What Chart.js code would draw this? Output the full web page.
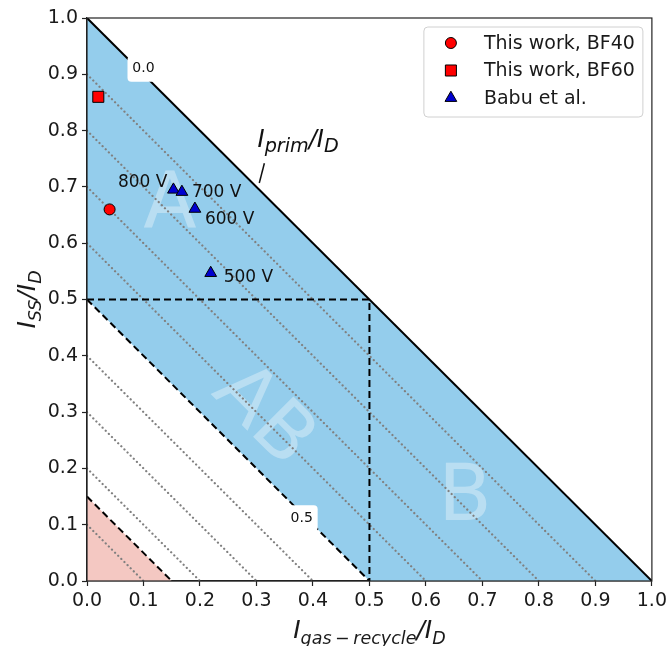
<!DOCTYPE html>
<html>
<head>
<meta charset="utf-8">
<script src="https://cdn.jsdelivr.net/npm/chart.js@4.4.0/dist/chart.umd.min.js"></script>
<style>
  html, body { margin: 0; padding: 0; background: #fff; }
  #wrap { width: 671px; height: 646px; }
</style>
</head>
<body>
<div id="wrap"><canvas id="chart"></canvas></div>
<script>
// ----- DATA -----
const tickValues = [0, 0.1, 0.2, 0.3, 0.4, 0.5, 0.6, 0.7, 0.8, 0.9, 1.0];
const tickLabels = ['0.0', '0.1', '0.2', '0.3', '0.4', '0.5', '0.6', '0.7', '0.8', '0.9', '1.0'];

const bf40X = [0.04];
const bf40Y = [0.66];
const bf60X = [0.02];
const bf60Y = [0.86];
const babuX = [0.153, 0.168, 0.191, 0.219];
const babuY = [0.695, 0.691, 0.661, 0.547];
const babuLabels = ['800 V', '700 V', '600 V', '500 V'];

// I_prim/I_D = 1 - x - y : dotted iso-lines
const dottedLevels = [0.1, 0.2, 0.3, 0.4, 0.6, 0.7, 0.8, 0.9];
const solidLevel = 1.0;
const dashedLevel = 0.5;
const pinkLevel = 0.15;

// regions
const bandX = [0, 0, 1, 0.5];
const bandY = [0.5, 1, 0, 0];
const pinkX = [0, 0, 0.15];
const pinkY = [0, 0.15, 0];
const splitX = [0, 0.5, 0.5];
const splitY = [0.5, 0.5, 0];

const regionNames = ['A', 'AB', 'B'];
const contourLabels = ['0.0', '0.5'];

// ----- text placement (data coords / pixel offsets) -----
const regionPos = [{ x: 0.147, y: 0.668, rot: 0 }, { x: 0.314, y: 0.295, rot: 45 }, { x: 0.669, y: 0.150, rot: 0 }];
const contourPos = [{ x: 0.100, y: 0.910 }, { x: 0.380, y: 0.1115 }];
const babuOffsets = [{ dx: -6, dy: -7, align: 'right' }, { dx: 10, dy: 1, align: 'left' },
                     { dx: 10, dy: 11, align: 'left' }, { dx: 13, dy: 5, align: 'left' }];

const FONT = '"DejaVu Sans", sans-serif';
const BLUE_FILL = '#94cdec';
const PINK_FILL = '#f4c8c2';

function pts(xs, ys) { return xs.map((x, i) => ({ x: x, y: ys[i] })); }
function isoLine(c) { return [{ x: 0, y: c }, { x: c, y: 0 }]; }

function lineSet(data, color, width, dash) {
    return {
        type: 'scatter', data: data, showLine: true, pointRadius: 0,
        borderColor: color, borderWidth: width, borderDash: dash,
        borderCapStyle: dash.length && dash[0] < 1 ? 'round' : 'butt', fill: false
    };
}

const datasets = [
    { label: 'This work, BF40', data: pts(bf40X, bf40Y), pointStyle: 'circle', pointRadius: 5.5,
      backgroundColor: '#ff0000', borderColor: '#000', borderWidth: 1 },
    { label: 'This work, BF60', data: pts(bf60X, bf60Y), pointStyle: 'rect', pointRadius: 7.8,
      backgroundColor: '#ff0000', borderColor: '#000', borderWidth: 1 },
    { label: 'Babu et al.', data: pts(babuX, babuY), pointStyle: 'triangle', pointRadius: 6.8,
      backgroundColor: '#0000d0', borderColor: '#000', borderWidth: 1 },
    lineSet(isoLine(solidLevel), '#000', 2, []),
    lineSet(isoLine(dashedLevel), '#000', 2, [7, 4]),
    lineSet(pts(splitX, splitY), '#000', 2, [7, 4]),
    lineSet(isoLine(pinkLevel), '#000', 2, [7, 4])
].concat(dottedLevels.map(c => lineSet(isoLine(c), '#808080', 2.2, [0.1, 4.3])));

function richParts(ctx, parts, size, ratio) {
    let w = 0;
    parts.forEach(p => {
        ctx.font = 'italic ' + (p.sub ? size * ratio : size) + 'px ' + FONT;
        p.w = ctx.measureText(p.t).width;
        w += p.w;
    });
    return w;
}
function drawRich(ctx, parts, x, y, size, align, ratio) {
    ratio = ratio || 0.7;
    const total = richParts(ctx, parts, size, ratio);
    let cx = align === 'center' ? x - total / 2 : x;
    ctx.textAlign = 'left';
    ctx.textBaseline = 'alphabetic';
    parts.forEach(p => {
        ctx.font = 'italic ' + (p.sub ? size * ratio : size) + 'px ' + FONT;
        ctx.fillText(p.t, cx, p.sub ? y + size * 0.22 : y);
        cx += p.w;
    });
}
function roundRect(ctx, x, y, w, h, r) {
    ctx.beginPath();
    ctx.moveTo(x + r, y);
    ctx.arcTo(x + w, y, x + w, y + h, r);
    ctx.arcTo(x + w, y + h, x, y + h, r);
    ctx.arcTo(x, y + h, x, y, r);
    ctx.arcTo(x, y, x + w, y, r);
    ctx.closePath();
}

const decorPlugin = {
    id: 'decor',
    beforeDatasetsDraw(chart) {
        const { ctx, chartArea, scales: { x, y } } = chart;
        ctx.save();
        ctx.beginPath();
        ctx.rect(chartArea.left, chartArea.top, chartArea.width, chartArea.height);
        ctx.clip();
        const poly = (xs, ys, color) => {
            ctx.beginPath();
            xs.forEach((v, i) => {
                const px = x.getPixelForValue(v), py = y.getPixelForValue(ys[i]);
                if (i === 0) ctx.moveTo(px, py); else ctx.lineTo(px, py);
            });
            ctx.closePath();
            ctx.fillStyle = color;
            ctx.fill();
        };
        poly(bandX, bandY, BLUE_FILL);
        poly(pinkX, pinkY, PINK_FILL);

        ctx.fillStyle = 'rgba(255,255,255,0.35)';
        ctx.font = '78px ' + FONT;
        ctx.textAlign = 'center';
        ctx.textBaseline = 'middle';
        regionNames.forEach((n, i) => {
            const p = regionPos[i];
            ctx.save();
            ctx.translate(x.getPixelForValue(p.x), y.getPixelForValue(p.y));
            ctx.rotate(p.rot * Math.PI / 180);
            ctx.fillText(n, 0, 3);
            ctx.restore();
        });
        ctx.restore();
    },
    afterDatasetsDraw(chart) {
        const { ctx, chartArea, scales: { x, y } } = chart;
        ctx.save();
        // contour labels
        ctx.font = '14px ' + FONT;
        contourLabels.forEach((t, i) => {
            const px = x.getPixelForValue(contourPos[i].x), py = y.getPixelForValue(contourPos[i].y);
            ctx.fillStyle = '#fff';
            roundRect(ctx, px - 16, py - 13, 32, 26, 4);
            ctx.fill();
            ctx.fillStyle = '#111';
            ctx.textAlign = 'center';
            ctx.textBaseline = 'middle';
            ctx.fillText(t, px, py);
        });
        // voltage labels
        ctx.font = '17px ' + FONT;
        ctx.fillStyle = '#111';
        ctx.textBaseline = 'middle';
        babuLabels.forEach((t, i) => {
            const o = babuOffsets[i];
            ctx.textAlign = o.align;
            ctx.fillText(t, x.getPixelForValue(babuX[i]) + o.dx, y.getPixelForValue(babuY[i]) + o.dy);
        });
        // I_prim/I_D annotation
        ctx.strokeStyle = '#111';
        ctx.lineWidth = 1.5;
        ctx.beginPath();
        ctx.moveTo(x.getPixelForValue(0.305), y.getPixelForValue(0.707));
        ctx.lineTo(x.getPixelForValue(0.314), y.getPixelForValue(0.742));
        ctx.stroke();
        ctx.fillStyle = '#111';
        drawRich(ctx, [{ t: 'I' }, { t: 'prim', sub: true }, { t: '/I' }, { t: 'D', sub: true }],
            x.getPixelForValue(0.302), y.getPixelForValue(0.771), 24, 'left', 0.8);

        // spines
        ctx.strokeStyle = '#222';
        ctx.lineWidth = 1.2;
        ctx.strokeRect(chartArea.left, chartArea.top, chartArea.width, chartArea.height);

        // legend
        const lx = chartArea.right - 228, ly = chartArea.top + 9, lw = 219, lh = 90;
        ctx.fillStyle = 'rgba(255,255,255,0.85)';
        ctx.strokeStyle = '#d0d0d0';
        ctx.lineWidth = 1;
        roundRect(ctx, lx, ly, lw, lh, 4);
        ctx.fill();
        ctx.stroke();
        ctx.font = '19px ' + FONT;
        ctx.textAlign = 'left';
        ctx.textBaseline = 'middle';
        [0, 1, 2].forEach(i => {
            const ds = chart.data.datasets[i];
            const ry = ly + 16 + i * 27.5;
            ctx.fillStyle = ds.backgroundColor;
            ctx.strokeStyle = '#000';
            ctx.lineWidth = 1;
            Chart.helpers.drawPoint(ctx, { pointStyle: ds.pointStyle, radius: ds.pointRadius, borderWidth: 1, rotation: 0 },
                lx + 27, ry);
            ctx.fillStyle = '#1a1a1a';
            ctx.fillText(ds.label, lx + 60, ry + 1);
        });

        // axis titles
        ctx.fillStyle = '#1a1a1a';
        drawRich(ctx, [{ t: 'I' }, { t: 'gas\u2009\u2212\u2009recycle', sub: true }, { t: '/I' }, { t: 'D', sub: true }],
            (chartArea.left + chartArea.right) / 2, 638, 25, 'center');
        ctx.save();
        ctx.translate(35, (chartArea.top + chartArea.bottom) / 2);
        ctx.rotate(-Math.PI / 2);
        drawRich(ctx, [{ t: 'I' }, { t: 'SS', sub: true }, { t: '/I' }, { t: 'D', sub: true }], 0, 0, 25, 'center');
        ctx.restore();
        ctx.restore();
    }
};

function axis(pos) {
    return {
        type: 'linear', position: pos, min: 0, max: 1,
        afterBuildTicks: s => { s.ticks = tickValues.map(v => ({ value: v })); },
        afterFit: s => { if (pos === 'left') s.width = 87; else s.height = 65; },
        ticks: {
            callback: (v, i) => tickLabels[i], color: '#1a1a1a', padding: 4,
            font: { family: FONT, size: 19 }, autoSkip: false, maxRotation: 0
        },
        grid: { display: true, drawOnChartArea: false, drawTicks: true, tickLength: 5, tickColor: '#222', tickWidth: 1.2 },
        border: { display: true, color: '#222', width: 1.2 }
    };
}

new Chart(document.getElementById('chart'), {
    type: 'scatter',
    data: { datasets: datasets },
    options: {
        responsive: true,
        maintainAspectRatio: false,
        animation: false,
        layout: { padding: { left: 0, right: 17, top: 18, bottom: 0 } },
        plugins: { legend: { display: false }, tooltip: { enabled: false } },
        scales: { x: axis('bottom'), y: axis('left') }
    },
    plugins: [decorPlugin]
});
</script>
</body>
</html>
